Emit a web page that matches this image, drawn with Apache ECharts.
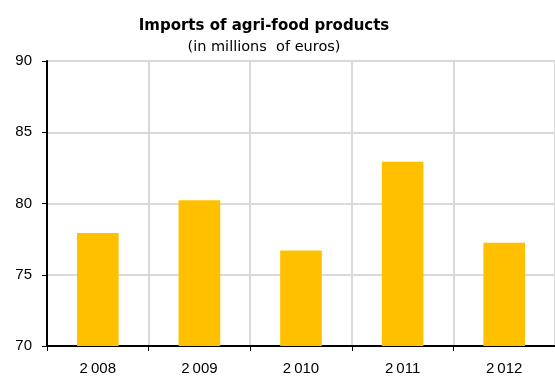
<!DOCTYPE html>
<html><head><meta charset="utf-8">
<script src="https://cdn.jsdelivr.net/npm/echarts@6/dist/echarts.min.js"></script>
<style>html,body{margin:0;padding:0;background:#fff}#c{width:555px;height:376px}</style>
</head><body><div id="c"></div>
<script>
var categories = ['2008', '2009', '2010', '2011', '2012'];
var imports = [77.93, 80.23, 76.7, 82.93, 77.25];
var yTicks = [70, 75, 80, 85, 90];

var chart = echarts.init(document.getElementById('c'), null, {renderer: 'canvas'});
chart.setOption({
  animation: false,
  title: [
    {text: 'Imports of agri-food products', left: 259, top: 14, textAlign: 'center',
     textStyle: {fontFamily: 'DejaVu Sans', fontWeight: 'bold', fontSize: 15, color: '#000'}},
    {text: '(in millions  of euros)', left: 259, top: 35, textAlign: 'center',
     textStyle: {fontFamily: 'DejaVu Sans', fontWeight: 'normal', fontSize: 14.5, color: '#000'}}
  ],
  grid: {left: 47, top: 61, width: 510, height: 285, containLabel: false},
  xAxis: {
    type: 'category', data: categories,
    axisLine: {lineStyle: {color: '#000', width: 2}},
    axisTick: {show: true, length: 5, lineStyle: {color: '#000', width: 1}},
    axisLabel: {fontFamily: 'Liberation Sans', fontSize: 15, color: '#000', margin: 15,
      formatter: function (v) { return v.charAt(0) + '\u2009' + v.slice(1); }},
    splitLine: {show: true, lineStyle: {color: '#d9d9d9', width: 2}}
  },
  yAxis: {
    type: 'value', min: 70, max: 90, interval: 5,
    axisLine: {show: true, lineStyle: {color: '#000', width: 2}},
    axisTick: {show: true, length: 5, lineStyle: {color: '#000', width: 1}},
    axisLabel: {fontFamily: 'Liberation Sans', fontSize: 15, color: '#000', margin: 15,
      formatter: function (v) { return yTicks.indexOf(v) >= 0 ? String(v) : ''; }},
    splitLine: {show: true, lineStyle: {color: '#d9d9d9', width: 2}}
  },
  series: [{
    type: 'bar', data: imports, barWidth: '41%',
    itemStyle: {color: '#FFC000'}
  }]
});
</script></body></html>
